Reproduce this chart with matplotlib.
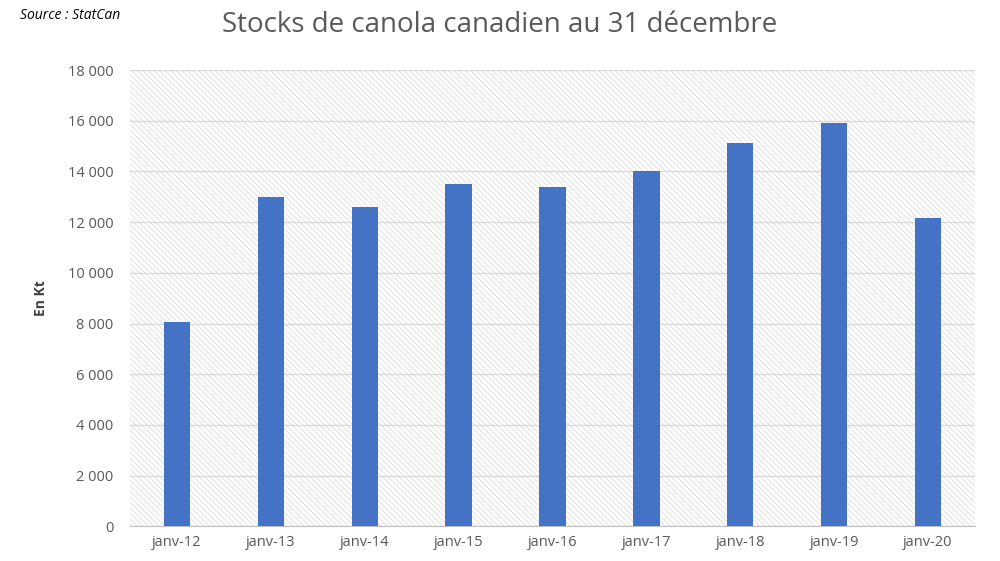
import matplotlib.pyplot as plt
from matplotlib.ticker import FuncFormatter

categories = ['janv-12', 'janv-13', 'janv-14', 'janv-15', 'janv-16',
              'janv-17', 'janv-18', 'janv-19', 'janv-20']
stocks = [8050, 12990, 12590, 13500, 13380, 14010, 15120, 15910, 12160]
y_ticks = list(range(0, 18001, 2000))

plt.rcParams['font.family'] = 'Open Sans'
plt.rcParams['hatch.linewidth'] = 0.5
fig = plt.figure(figsize=(10, 5.61), dpi=100)
ax = fig.add_axes([0.130, 0.062, 0.845, 0.813])

# hatched background like the Excel chart
ax.set_facecolor('white')
ax.add_patch(plt.Rectangle((0, 0), 1, 1, transform=ax.transAxes, facecolor='white',
                           edgecolor='#d6d6d6', hatch='\\\\\\\\\\\\', linewidth=0, zorder=0))

x = range(len(categories))
ax.bar(x, stocks, width=0.28, color='#4472c4', zorder=3)
ax.set_xlim(-0.5, len(categories) - 0.5)
ax.set_ylim(0, 18000)
ax.set_yticks(y_ticks)
ax.yaxis.set_major_formatter(FuncFormatter(lambda v, p: f'{int(v):,}'.replace(',', ' ')))
ax.set_xticks(list(x))
ax.set_xticklabels(categories)
ax.grid(axis='y', color='#d9d9d9', linewidth=1, zorder=1)
for s in ['top', 'right', 'left']:
    ax.spines[s].set_visible(False)
ax.spines['bottom'].set_color('#bfbfbf')
ax.tick_params(axis='y', length=0, labelsize=10.5, colors='#595959', pad=12)
ax.tick_params(axis='x', length=0, labelsize=10.5, colors='#595959', pad=6)
ax.set_ylabel('En Kt', fontsize=10, fontweight='bold', color='#404040', labelpad=14)

fig.text(0.5, 0.955, 'Stocks de canola canadien au 31 décembre', ha='center', va='center',
         fontsize=20, color='#595959')
fig.text(0.02, 0.972, 'Source : StatCan', ha='left', va='center', fontsize=10,
         style='italic', color='black')

fig.savefig('out.png')
